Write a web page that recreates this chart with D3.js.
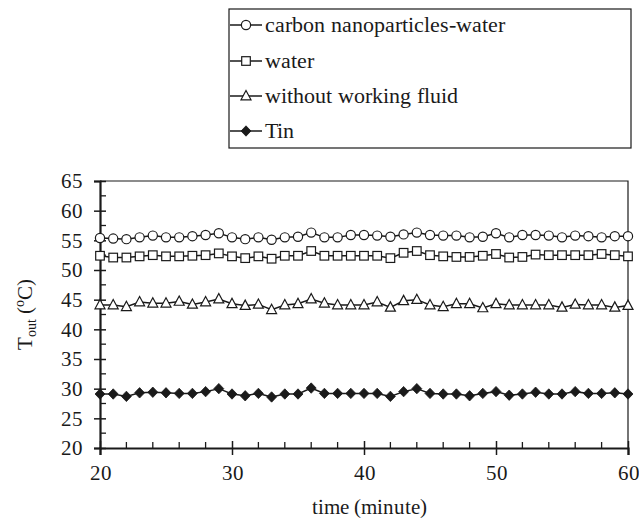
<!DOCTYPE html>
<html>
<head>
<meta charset="utf-8">
<script src="https://cdn.jsdelivr.net/npm/d3@7"></script>
<style>
  @font-face {
    font-family: "RefSerif";
    src: local("Liberation Serif"), local("LiberationSerif"), local("LiberationSerif-Regular"),
         local("DejaVu Serif"), local("DejaVuSerif"), local("Times New Roman"), local("Tinos"),
         url("file:///usr/share/fonts/truetype/liberation/LiberationSerif-Regular.ttf"),
         url("file:///usr/share/fonts/truetype/liberation2/LiberationSerif-Regular.ttf"),
         url("file:///usr/share/fonts/liberation/LiberationSerif-Regular.ttf"),
         url("file:///usr/share/fonts/truetype/dejavu/DejaVuSerif.ttf");
  }
  html, body { margin: 0; padding: 0; background: #fff; }
  svg { display: block; }
  svg text { font-family: "RefSerif", "Liberation Serif", "Times New Roman", serif; fill: #1a1a1a; }
</style>
</head>
<body>
<svg id="chart" width="639" height="525"></svg>
<script>
// ---------- data ----------
const times = [20,21,22,23,24,25,26,27,28,29,30,31,32,33,34,35,36,37,38,39,40,
               41,42,43,44,45,46,47,48,49,50,51,52,53,54,55,56,57,58,59,60];

const carbonWater = [55.4,55.3,55.2,55.5,55.8,55.5,55.5,55.7,55.9,56.2,55.5,
                     55.2,55.5,55.1,55.5,55.6,56.3,55.5,55.5,55.9,55.9,
                     55.8,55.6,56.0,56.3,55.9,55.8,55.8,55.5,55.6,56.2,
                     55.5,55.9,55.9,55.8,55.5,55.8,55.7,55.5,55.7,55.7];

const water = [52.4,52.1,52.1,52.3,52.5,52.3,52.3,52.4,52.5,52.8,52.3,
               52.0,52.3,51.9,52.4,52.4,53.2,52.4,52.4,52.4,52.4,
               52.4,52.0,52.9,53.2,52.5,52.3,52.2,52.2,52.4,52.7,
               52.1,52.2,52.6,52.5,52.5,52.5,52.5,52.7,52.5,52.3];

const withoutFluid = [44.1,44.1,43.8,44.6,44.4,44.4,44.7,44.2,44.6,45.1,44.3,
                      44.0,44.2,43.3,44.1,44.3,45.1,44.4,44.1,44.1,44.1,
                      44.6,43.7,44.8,45.0,44.1,43.8,44.3,44.3,43.6,44.3,
                      44.1,44.1,44.1,44.1,43.7,44.2,44.1,44.1,43.7,44.0];

const tin = [29.1,29.1,28.7,29.3,29.4,29.3,29.2,29.2,29.5,30.0,29.1,
             28.8,29.2,28.6,29.1,29.1,30.1,29.2,29.2,29.2,29.2,
             29.2,28.7,29.5,30.0,29.2,29.1,29.1,28.8,29.2,29.5,
             28.9,29.1,29.4,29.1,29.1,29.5,29.2,29.2,29.3,29.1];

const seriesNames = ["carbon nanoparticles-water", "water", "without working fluid", "Tin"];
const seriesMarkers = ["circle", "square", "triangle", "diamond"];
const seriesValues = [carbonWater, water, withoutFluid, tin];

const xTicks = [20, 30, 40, 50, 60];
const yTicks = [20, 25, 30, 35, 40, 45, 50, 55, 60, 65];
const xTitle = "time (minute)";

// ---------- layout ----------
const FONT = '"RefSerif", "Liberation Serif", "Times New Roman", serif';
const svg = d3.select("#chart");
const plot = { left: 100, right: 628, top: 181, bottom: 448 };
const ink = "#1a1a1a";

const x = d3.scaleLinear().domain([20, 60]).range([plot.left, plot.right]);
const y = d3.scaleLinear().domain([20, 65]).range([plot.bottom, plot.top]);

// frame (top and right thin lines)
svg.append("path")
  .attr("d", `M${plot.left},${plot.top}H${plot.right}V${plot.bottom}`)
  .attr("fill", "none").attr("stroke", ink).attr("stroke-width", 1.2);

// minor ticks (inside)
const xMinor = d3.range(20, 60.01, 2).filter(v => v % 10 !== 0);
const yMinor = d3.range(22.5, 65, 5);

const xAxis = svg.append("g").attr("transform", `translate(0,${plot.bottom})`)
  .call(d3.axisBottom(x).tickValues(xTicks).tickSize(7).tickPadding(10).tickFormat(d3.format("d")));
xAxis.attr("font-family", FONT);
xAxis.select(".domain").attr("stroke", ink).attr("stroke-width", 2.2);
xAxis.selectAll(".tick line").attr("stroke", ink).attr("stroke-width", 1.5).attr("y1", -7);
xAxis.selectAll(".tick text").attr("font-size", 21).attr("fill", ink).attr("font-family", FONT);
xAxis.selectAll(".minor").data(xMinor).enter().append("line")
  .attr("x1", d => x(d)).attr("x2", d => x(d)).attr("y1", 0).attr("y2", -6)
  .attr("stroke", ink).attr("stroke-width", 1.3);

const yAxis = svg.append("g").attr("transform", `translate(${plot.left},0)`)
  .call(d3.axisLeft(y).tickValues(yTicks).tickSize(6).tickPadding(11).tickFormat(d3.format("d")));
yAxis.attr("font-family", FONT);
yAxis.select(".domain").attr("stroke", ink).attr("stroke-width", 2.2);
yAxis.selectAll(".tick line").attr("stroke", ink).attr("stroke-width", 1.5).attr("x1", 6);
yAxis.selectAll(".tick text").attr("font-size", 21).attr("fill", ink).attr("font-family", FONT);
yAxis.selectAll(".minor").data(yMinor).enter().append("line")
  .attr("x1", 0).attr("x2", 6).attr("y1", d => y(d)).attr("y2", d => y(d))
  .attr("stroke", ink).attr("stroke-width", 1.3);

// axis titles
svg.append("text").attr("x", 369).attr("y", 514)
  .attr("text-anchor", "middle").attr("font-size", 21).attr("font-family", FONT).text(xTitle);

const yt = svg.append("text")
  .attr("transform", `translate(32,${(plot.top + plot.bottom) / 2}) rotate(-90)`)
  .attr("text-anchor", "middle").attr("font-size", 21).attr("font-family", FONT);
yt.append("tspan").text("T");
yt.append("tspan").attr("font-size", 14).attr("dy", 4).text("out");
yt.append("tspan").attr("dy", -4).text(" (");
yt.append("tspan").attr("font-size", 14).attr("dy", -8).text("o");
yt.append("tspan").attr("dy", 8).text("C)");

// markers
function drawMarker(g, type, cx, cy) {
  if (type === "circle") {
    g.append("circle").attr("cx", cx).attr("cy", cy).attr("r", 4.6)
      .attr("fill", "#fff").attr("stroke", ink).attr("stroke-width", 1.2);
  } else if (type === "square") {
    g.append("rect").attr("x", cx - 4.3).attr("y", cy - 4.3).attr("width", 8.6).attr("height", 8.6)
      .attr("fill", "#fff").attr("stroke", ink).attr("stroke-width", 1.2);
  } else if (type === "triangle") {
    g.append("path").attr("d", `M${cx},${cy - 5.5}L${cx + 5},${cy + 3.8}L${cx - 5},${cy + 3.8}Z`)
      .attr("fill", "#fff").attr("stroke", ink).attr("stroke-width", 1.2);
  } else {
    g.append("path").attr("d", `M${cx},${cy - 5.2}L${cx + 5},${cy}L${cx},${cy + 5.2}L${cx - 5},${cy}Z`)
      .attr("fill", ink).attr("stroke", ink).attr("stroke-width", 0.8);
  }
}

const line = d3.line().x(d => x(d[0])).y(d => y(d[1]));
seriesValues.forEach((vals, i) => {
  const pts = times.map((t, j) => [t, vals[j]]);
  const g = svg.append("g");
  g.append("path").datum(pts).attr("d", line)
    .attr("fill", "none").attr("stroke", ink).attr("stroke-width", 1.5);
  pts.forEach(p => drawMarker(g, seriesMarkers[i], x(p[0]), y(p[1])));
});

// legend
const lg = { left: 229, right: 631, top: 9, bottom: 148 };
svg.append("rect").attr("x", lg.left).attr("y", lg.top)
  .attr("width", lg.right - lg.left).attr("height", lg.bottom - lg.top)
  .attr("fill", "#fff").attr("stroke", ink).attr("stroke-width", 1.2);
const legendRowY = [25, 61, 96, 131];
seriesNames.forEach((name, i) => {
  const g = svg.append("g");
  const cy = legendRowY[i];
  g.append("line").attr("x1", lg.left + 1).attr("x2", 262).attr("y1", cy).attr("y2", cy)
    .attr("stroke", ink).attr("stroke-width", 1.5);
  drawMarker(g, seriesMarkers[i], 246, cy);
  g.append("text").attr("x", 265).attr("y", cy + 7).attr("font-size", 22)
    .attr("font-family", FONT).text(name);
});
</script>
</body>
</html>
